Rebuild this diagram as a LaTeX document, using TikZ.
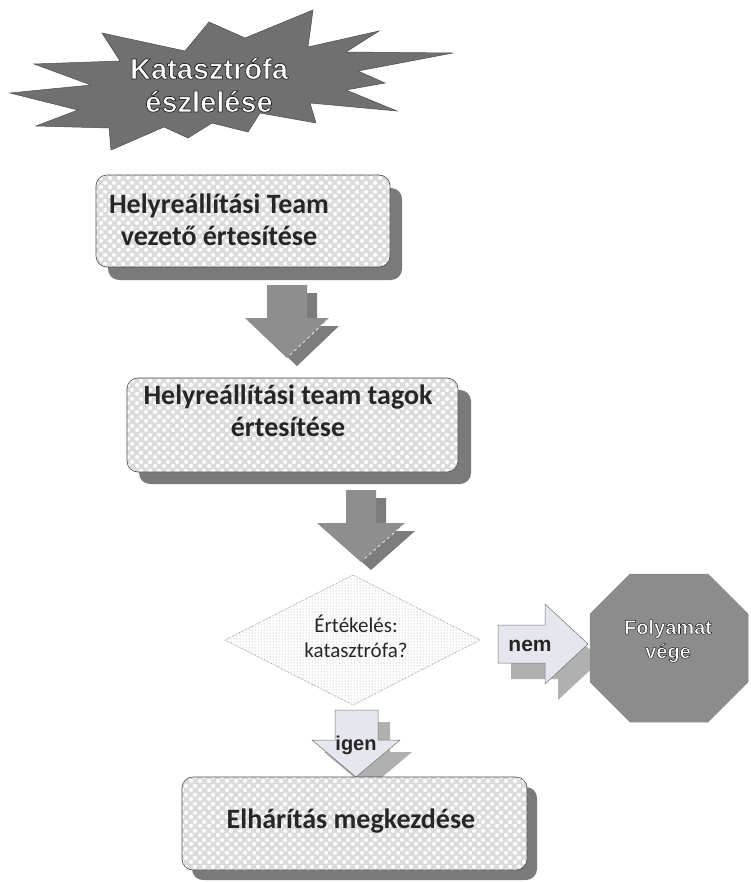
\documentclass[tikz,border=0pt]{standalone}
\usepackage{fontspec}
\setmainfont{Carlito}
\newfontfamily\arialfont{Liberation Sans}
\newfontfamily\octfont[BoldFeatures={FakeBold=2.6}]{Liberation Sans}
\usetikzlibrary{patterns}
\pgfdeclarepatternformonly{softdots}{\pgfpointorigin}{\pgfqpoint{9pt}{9pt}}{\pgfqpoint{9pt}{9pt}}{%
  \pgfpathcircle{\pgfqpoint{2.25pt}{2.25pt}}{2.3pt}%
  \pgfpathcircle{\pgfqpoint{6.75pt}{6.75pt}}{2.3pt}%
  \pgfusepath{fill}}
\newcommand\wout[1]{{\color{white}\special{pdf:code 0.15 0.15 0.15 RG}#1}}
\definecolor{burstgray}{HTML}{707070}
\definecolor{octgray}{HTML}{8C8C8C}
\definecolor{arrowgray}{HTML}{8E8E8E}
\definecolor{arrowshade}{HTML}{7C7C7C}
\definecolor{lightfill}{HTML}{E6E6EE}
\definecolor{shadowgray}{HTML}{7A7A7A}
\definecolor{textdark}{HTML}{262626}
\tikzset{
  boxshape/.style={draw=black!70, line width=0.6pt, rounded corners=11pt,
    preaction={fill=gray!28}, pattern=softdots, pattern color=white,
    inner sep=0pt},
  boxshadow/.style={fill=shadowgray, rounded corners=11pt},
  boxtext/.style={font=\bfseries\fontsize{28}{32}\selectfont, text=textdark, align=center},
  grayarrow/.style={fill=arrowgray},
  grayarrowshade/.style={fill=arrowshade},
  lightarrow/.style={fill=lightfill, draw=black!55, line width=0.5pt},
  lightarrowshade/.style={fill=gray!62},
  seam/.style={draw=white!85!gray, dashed, line width=0.8pt}
}
\begin{document}
\begin{tikzpicture}[x=1pt,y=-1pt]
\useasboundingbox (0,0) rectangle (750,882);
\fill[white] (0,0) rectangle (750,882);

% starburst (Explosion 2)
\filldraw[fill=burstgray, draw=black!70, line width=0.5pt]
 (245,38) -- (313,10) -- (308,47) -- (379,31) -- (346,52) -- (453,53) -- (358,71)
 -- (385,83) -- (346,90) -- (397,111) -- (310,103) -- (316,123) -- (260,113)
 -- (248,132) -- (212,123) -- (188,138) -- (164,127) -- (111,150) -- (109,128)
 -- (36,126) -- (78,110) -- (10,93) -- (91,85) -- (34,64) -- (120,61) -- (102,33)
 -- (185,51) -- (209,22) -- cycle;
\node[font=\octfont\bfseries\fontsize{29}{33}\selectfont, align=center] (burst) at (209,85)
  {\wout{Katasztrófa}\\\wout{észlelése}};

% box 1
\fill[boxshadow] (108,188) rectangle (402,280);
\node[boxshape, minimum width=294pt, minimum height=92pt] (b1) at (243,221) {};
\node[boxtext] (t1) at (219,220) {Helyreállítási Team\\vezető értesítése};

% arrow 1
\fill[grayarrowshade, shift={(10,8)}] (267,285) -- (307,285) -- (307,318) -- (329,318)
  -- (287,358) -- (245,318) -- (267,318) -- cycle;
\fill[grayarrow] (267,285) -- (307,285) -- (307,318) -- (329,318)
  -- (287,358) -- (245,318) -- (267,318) -- cycle;
\draw[seam] (327,320) -- (289,356);

% box 2
\fill[boxshadow] (139,390) rectangle (471,484);
\node[boxshape, minimum width=331pt, minimum height=94pt] (b2) at (292.5,425) {};
\node[boxtext] (t2) at (288,411) {Helyreállítási team tagok\\értesítése};

% arrow 2
\fill[grayarrowshade, shift={(10,8)}] (346,490) -- (376,490) -- (376,523) -- (405,523)
  -- (361,562) -- (317,523) -- (346,523) -- cycle;
\fill[grayarrow] (346,490) -- (376,490) -- (376,523) -- (405,523)
  -- (361,562) -- (317,523) -- (346,523) -- cycle;
\draw[seam] (403,525) -- (363,560);

% diamond
\path[pattern=dots, pattern color=gray!75] (225,640) -- (353,575) -- (480,640) -- (353,705) -- cycle;
\draw[densely dotted, gray, line width=0.6pt] (225,640) -- (353,575) -- (480,640) -- (353,705) -- cycle;
\node[font=\fontsize{21}{25}\selectfont, text=black!85, align=center] (dq) at (356,636)
  {Értékelés:\\katasztrófa?};

% nem arrow
\fill[lightarrowshade, shift={(13,16)}] (498,625) -- (545,625) -- (545,604) -- (588,644)
  -- (545,684) -- (545,663) -- (498,663) -- cycle;
\filldraw[lightarrow] (498,625) -- (545,625) -- (545,604) -- (588,644)
  -- (545,684) -- (545,663) -- (498,663) -- cycle;
\node[font=\arialfont\bfseries\fontsize{21}{24}\selectfont, text=textdark, anchor=base] (nem) at (530,651) {nem};

% octagon
\filldraw[fill=octgray, draw=black!45, line width=0.5pt]
 (630,574) -- (708,574) -- (748,614) -- (748,682) -- (708,722) -- (630,722) -- (590,682) -- (590,614) -- cycle;
\node[font=\octfont\bfseries\fontsize{20}{24}\selectfont, align=center] (end) at (668,641)
  {\wout{Folyamat}\\\wout{vége}};

% igen arrow
\fill[lightarrowshade, shift={(12,12)}] (335,710) -- (378,710) -- (378,740) -- (400,740)
  -- (356,777) -- (312,740) -- (335,740) -- cycle;
\filldraw[lightarrow] (335,710) -- (378,710) -- (378,740) -- (400,740)
  -- (356,777) -- (312,740) -- (335,740) -- cycle;
\node[font=\arialfont\bfseries\fontsize{20}{24}\selectfont, text=textdark, anchor=base] (igen) at (356,750) {igen};

% box 3
\fill[boxshadow] (192,787) rectangle (537,880);
\node[boxshape, minimum width=345pt, minimum height=93pt] (b3) at (354.5,823.5) {};
\node[boxtext] (t3) at (351,821) {Elhárítás megkezdése};
\end{tikzpicture}
\end{document}
